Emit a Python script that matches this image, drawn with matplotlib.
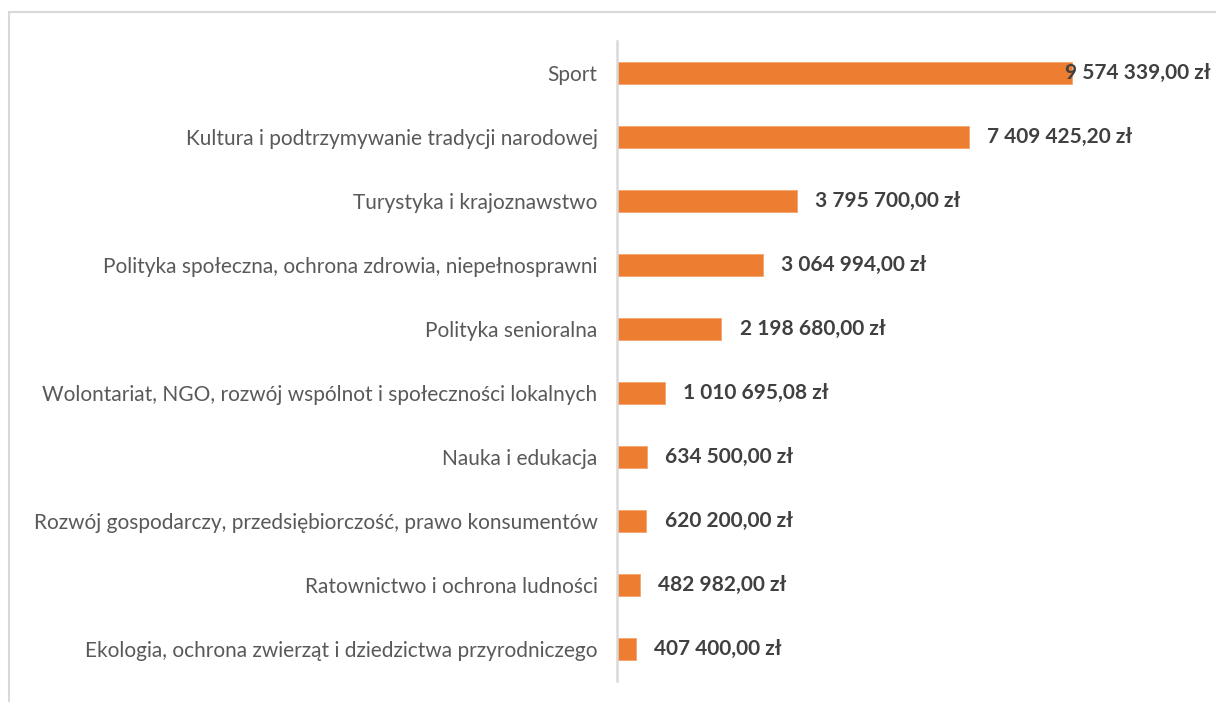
import matplotlib.pyplot as plt
from matplotlib.patches import Rectangle

categories = [
    "Sport",
    "Kultura i podtrzymywanie tradycji narodowej",
    "Turystyka i krajoznawstwo",
    "Polityka społeczna, ochrona zdrowia, niepełnosprawni",
    "Polityka senioralna",
    "Wolontariat, NGO, rozwój wspólnot i społeczności lokalnych",
    "Nauka i edukacja",
    "Rozwój gospodarczy, przedsiębiorczość, prawo konsumentów",
    "Ratownictwo i ochrona ludności",
    "Ekologia, ochrona zwierząt i dziedzictwa przyrodniczego",
]
values = [9574339.00, 7409425.20, 3795700.00, 3064994.00, 2198680.00,
          1010695.08, 634500.00, 620200.00, 482982.00, 407400.00]


def fmt_pln(v):
    s = f"{v:,.2f}"
    s = s.replace(",", " ").replace(".", ",")
    return s + " zł"


W, H = 1216, 702
fig = plt.figure(figsize=(W / 100, H / 100), dpi=100)
plt.rcParams['font.family'] = ['Lato', 'DejaVu Sans']

# light outer border (only top and left edges visible)
fig.patches.append(Rectangle((9 / W, -0.1), 1.2, 1 - 12 / H + 0.1,
                             transform=fig.transFigure, fill=False,
                             edgecolor="#D9D9D9", linewidth=1.5))

ax = fig.add_axes([617 / W, 1 - 681 / H, 594 / W, 640 / H])
y = list(range(len(categories)))
ax.barh(y, values, height=0.344, color="#ED7D31", edgecolor="#F4A46E", linewidth=0.6)
ax.set_xlim(0, 12.5e6)
ax.set_ylim(len(categories) - 0.5, -0.5)
ax.set_yticks(y)
ax.set_yticklabels(categories, fontsize=15, color="#595959")
ax.tick_params(axis="y", length=0, pad=14)
ax.set_xticks([])
for side in ["top", "right", "bottom"]:
    ax.spines[side].set_visible(False)
ax.spines["left"].set_color("#D9D9D9")
ax.spines["left"].set_linewidth(1.8)

fig.canvas.draw()
renderer = fig.canvas.get_renderer()
ax_right = ax.get_window_extent().x1
for yi, v in zip(y, values):
    t = ax.annotate(fmt_pln(v), xy=(v, yi), xytext=(13, 0), textcoords="offset points",
                    va="center", ha="left", fontsize=15, fontweight="bold", color="#404040")
    bb = t.get_window_extent(renderer)
    if bb.x1 > ax_right:
        t.remove()
        ax.text(1.0, yi, fmt_pln(v), transform=ax.get_yaxis_transform(),
                va="center", ha="right", fontsize=15, fontweight="bold", color="#404040")

fig.savefig("out.png", dpi=100)
